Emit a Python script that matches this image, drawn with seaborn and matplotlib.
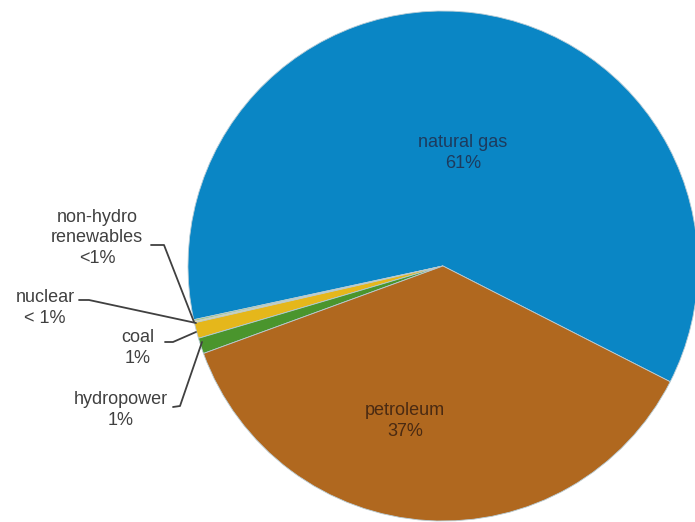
import matplotlib
matplotlib.use("Agg")
import matplotlib.pyplot as plt
import seaborn as sns

sns.set_theme(style="white")
plt.rcParams['font.family'] = ['Liberation Sans', 'DejaVu Sans']

# data
sources = ["natural gas", "non-hydro renewables", "nuclear", "coal", "hydropower", "petroleum"]
shares = [61, 0.1, 0.1, 1, 1, 37]
colors = ["#0A86C5", "#9CC65A", "#F2E08A", "#E5B71B", "#4A952D", "#B0681F"]

W, H = 695, 522
fig = plt.figure(figsize=(W / 100, H / 100), dpi=100)
ax = fig.add_axes([0, 0, 1, 1])

cx, cy, r = 443, 266, 255
ax.pie(shares, colors=colors, startangle=-27, counterclock=True,
       center=(cx, H - cy), radius=r,
       wedgeprops=dict(edgecolor="#b8ccd6", linewidth=0.6))
ax.set_xlim(0, W)
ax.set_ylim(0, H)
ax.set_axis_off()

def Y(y):
    return H - y

fs = 13
ls = 1.3
# inner labels
ax.text(463, Y(153), "natural gas\n61%", ha="center", va="center", fontsize=fs,
        color="#1d3b5e", linespacing=ls)
ax.text(405, Y(421), "petroleum\n37%", ha="center", va="center", fontsize=fs,
        color="#4a2a12", linespacing=ls)

# outer labels
lc = "#404040"
ax.text(97, Y(238), "non-hydro\nrenewables\n<1%", ha="center", va="center", fontsize=fs, color=lc, linespacing=ls)
ax.text(45, Y(308), "nuclear\n< 1%", ha="center", va="center", fontsize=fs, color=lc, linespacing=ls)
ax.text(138, Y(348), "coal\n1%", ha="center", va="center", fontsize=fs, color=lc, linespacing=ls)
ax.text(121, Y(410), "hydropower\n1%", ha="center", va="center", fontsize=fs, color=lc, linespacing=ls)

# leader lines
leaders = [
    [(151, 245), (164, 245), (194, 322)],
    [(79, 300), (89, 300), (196, 323)],
    [(165, 342), (173, 342), (196, 332)],
    [(173, 407), (180, 406), (202, 342)],
]
for pts in leaders:
    xs = [p[0] for p in pts]
    ys = [Y(p[1]) for p in pts]
    ax.plot(xs, ys, color=lc, lw=1.3, solid_capstyle="round")

fig.savefig("out.png", dpi=100)
